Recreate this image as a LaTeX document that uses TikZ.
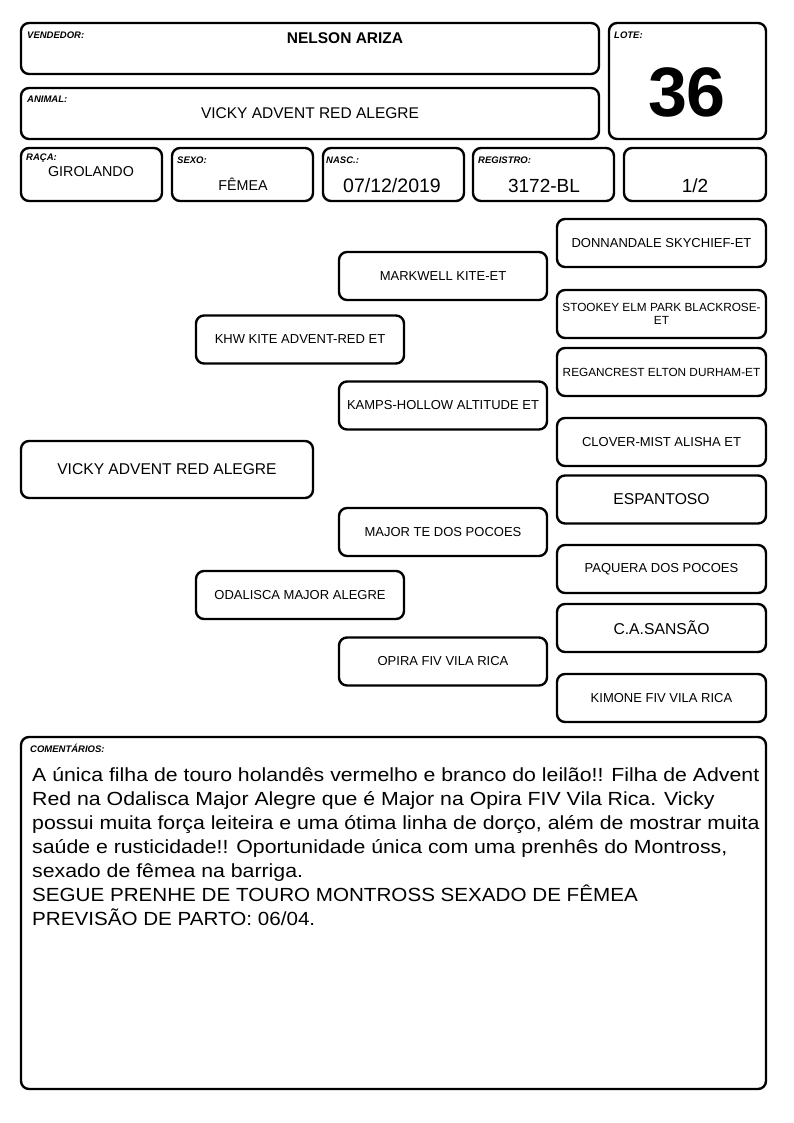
\documentclass[tikz,border=0pt]{standalone}
\usepackage{fontspec}
\setmainfont{Liberation Sans}
\newfontfamily\largafont[FakeStretch=1.12]{Liberation Sans}
\newfontfamily\caixafont[FakeStretch=1.085]{Liberation Sans}
\begin{document}
\begin{tikzpicture}[x=1pt,y=-1pt,line join=round,
	box/.style={draw,line width=2.4pt,rounded corners=8pt,inner sep=2pt,align=center},
	ped/.style={box,minimum width=208pt,minimum height=48pt,font=\fontsize{13}{15}\selectfont},
	tag/.style={anchor=west,inner sep=0pt,font=\fontsize{9.5}{11}\selectfont\bfseries\itshape}]
\useasboundingbox (0,0) rectangle (794,1123);
	% cabecalho
	\node[box,minimum width=578pt,minimum height=51pt] (vend) at (310,48.5) {};
	\node[box,minimum width=578pt,minimum height=51pt] (anim) at (310,113.5) {};
	\node[box,minimum width=157pt,minimum height=116pt] (lote) at (687.5,81) {};
	\node[box,minimum width=141pt,minimum height=53pt] (raca) at (91.5,174.5) {};
	\node[box,minimum width=141pt,minimum height=53pt] (sexo) at (242.5,174.5) {};
	\node[box,minimum width=141pt,minimum height=53pt] (nasc) at (393.5,174.5) {};
	\node[box,minimum width=141pt,minimum height=53pt] (reg) at (543.5,174.5) {};
	\node[box,minimum width=142pt,minimum height=53pt] (frac) at (695,174.5) {};
	\node[tag] (vendtag) at (27,35) {VENDEDOR:};
	\node[tag] (animtag) at (27,99) {ANIMAL:};
	\node[tag] (lotetag) at (614,35) {LOTE:};
	\node[tag] (racatag) at (26,158) {RAÇA:};
	\node[tag] (sexotag) at (177,160) {SEXO:};
	\node[tag] (nasctag) at (326,160) {NASC.:};
	\node[tag] (regtag) at (478,160) {REGISTRO:};
	\node[font=\fontsize{15.5}{18}\selectfont\bfseries] (vendval) at (345,38) {NELSON ARIZA};
	\node[font=\fontsize{15.5}{18}\selectfont] (animval) at (310,113) {VICKY ADVENT RED ALEGRE};
	\node[font=\fontsize{70}{80}\selectfont\bfseries] (loteval) at (687,92) {36};
	\node[font=\fontsize{14.3}{17}\selectfont] (racaval) at (91,172) {GIROLANDO};
	\node[font=\fontsize{14.3}{17}\selectfont] (sexoval) at (243,184) {FÊMEA};
	\node[font=\fontsize{19.5}{22}\selectfont] (nascval) at (392,186) {07/12/2019};
	\node[font=\fontsize{19}{22}\selectfont] (regval) at (544,186) {3172-BL};
	\node[font=\fontsize{19}{22}\selectfont] (fracval) at (695,186) {1/2};
	% genealogia
	\node[box,minimum width=292pt,minimum height=57pt,font=\fontsize{15.6}{18}\selectfont] (vicky) at (167,469.5) {VICKY ADVENT RED ALEGRE};
	\node[ped] (pai) at (300,339.5) {KHW KITE ADVENT-RED ET};
	\node[ped] (mae) at (300,595) {ODALISCA MAJOR ALEGRE};
	\node[ped] (avopp) at (443,276) {MARKWELL KITE-ET};
	\node[ped] (avopm) at (443,405.5) {KAMPS-HOLLOW ALTITUDE ET};
	\node[ped] (avomp) at (443,532) {MAJOR TE DOS POCOES};
	\node[ped] (avomm) at (443,661.5) {OPIRA FIV VILA RICA};
	\node[ped,minimum width=209pt] (bis1) at (661.5,243) {DONNANDALE SKYCHIEF-ET};
	\node[ped,minimum width=209pt,font=\fontsize{11.8}{13}\selectfont] (bis2) at (661.5,314) {STOOKEY ELM PARK BLACKROSE-\\ET};
	\node[ped,minimum width=209pt,font=\fontsize{11.8}{13}\selectfont] (bis3) at (661.5,372) {REGANCREST ELTON DURHAM-ET};
	\node[ped,minimum width=209pt] (bis4) at (661.5,442) {CLOVER-MIST ALISHA ET};
	\node[ped,minimum width=209pt,font=\fontsize{15.7}{18}\selectfont] (bis5) at (661.5,499.5) {ESPANTOSO};
	\node[ped,minimum width=209pt] (bis6) at (661.5,569) {PAQUERA DOS POCOES};
	\node[ped,minimum width=209pt,font=\fontsize{15.7}{18}\selectfont] (bis7) at (661.5,628) {C.A.SANSÃO};
	\node[ped,minimum width=209pt] (bis8) at (661.5,698) {KIMONE FIV VILA RICA};
	% comentarios
	\node[box,minimum width=745pt,minimum height=352pt] (coment) at (393.5,913) {};
	\node[tag] (comenttag) at (30,748) {COMENTÁRIOS:};
	\node[anchor=base west,inner sep=0pt,align=left,font=\largafont\fontsize{19}{24}\selectfont] (comenttxt) at (32,925)
	{A única filha de touro holandês vermelho e branco do leilão!! Filha de Advent\\
	Red na Odalisca Major Alegre que é Major na Opira FIV Vila Rica. Vicky\\
	possui muita força leiteira e uma ótima linha de dorço, além de mostrar muita\\
	saúde e rusticidade!! Oportunidade única com uma prenhês do Montross,\\
	sexado de fêmea na barriga.\\
	{\caixafont SEGUE PRENHE DE TOURO MONTROSS SEXADO DE FÊMEA}\\
	{\caixafont PREVISÃO DE PARTO: 06/04.}};
\end{tikzpicture}
\end{document}
